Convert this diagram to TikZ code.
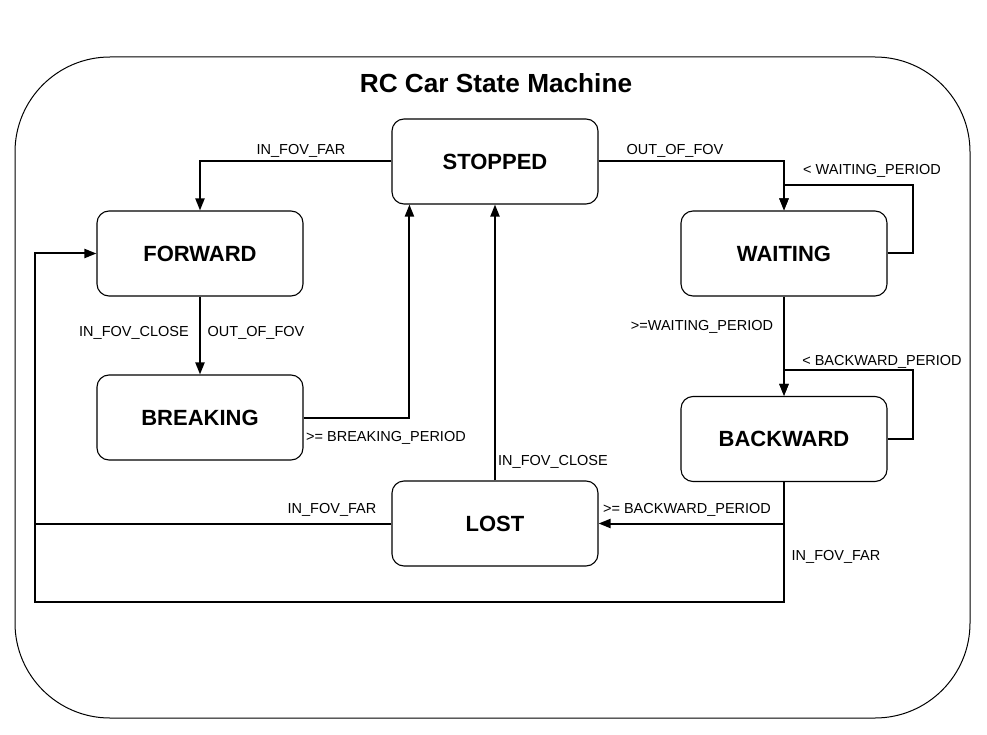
\documentclass[tikz,border=0pt]{standalone}
\usepackage{fontspec}
\setmainfont{Liberation Sans}
\usetikzlibrary{arrows.meta}

\tikzset{
  state/.style={draw, line width=1.1, rounded corners=12, minimum width=206, minimum height=85,
                font=\fontsize{22}{26}\selectfont\bfseries},
  conn/.style={line width=2, -{Triangle[length=12pt,width=9pt]}},
  wire/.style={line width=2},
  lbl/.style={font=\fontsize{14.5}{17}\selectfont, inner sep=0}
}

\begin{document}
\begin{tikzpicture}[x=1pt,y=-1pt]
	\useasboundingbox (0,0) rectangle (987,735);

	% outer frame
	\draw [line width=1, rounded corners=95] (15,57) rectangle (970,718);
	\node (title) at (496,83) {\fontsize{26.2}{30}\selectfont\bfseries RC Car State Machine};

	% states
	\node[state] (stopped)  at (495,161.5) {STOPPED};
	\node[state] (forward)  at (200,253.5) {FORWARD};
	\node[state] (breaking) at (200,417.5) {BREAKING};
	\node[state] (waiting)  at (784,253.5) {WAITING};
	\node[state] (backward) at (784,439)   {BACKWARD};
	\node[state] (lost)     at (495,523.5) {LOST};

	\coordinate (corner) at (35,602);

	% transitions
	\draw [conn] (stopped.west) -| (forward.north);
	\draw [conn] (stopped.east) -| (waiting.north);
	\draw [conn] (waiting.east) -- ++(25,0) |- ([yshift=25pt]waiting.north) -- (waiting.north);
	\draw [conn] (waiting.south) -- (backward.north);
	\draw [conn] (backward.east) -- ++(25,0) |- ([yshift=26pt]backward.north) -- (backward.north);
	\draw [conn] (backward.south) |- (lost.east);
	\draw [conn] (backward.south) |- (corner) |- (forward.west);
	\draw [wire] (lost.west) -- (lost.west -| corner);
	\draw [conn] (lost.north) -- (stopped.south);
	\draw [conn] (forward.south) -- (breaking.north);
	\draw [conn] (breaking.east) -| ([xshift=18pt]stopped.south west);

	% labels
	\node[lbl] (l1)  at (301,151) {IN\_FOV\_FAR};
	\node[lbl] (l2)  at (675,151) {OUT\_OF\_FOV};
	\node[lbl] (l3)  at (872,171) {< WAITING\_PERIOD};
	\node[lbl] (l4)  at (702,327) {>=WAITING\_PERIOD};
	\node[lbl] (l5)  at (882,362) {< BACKWARD\_PERIOD};
	\node[lbl] (l6)  at (687,510) {>= BACKWARD\_PERIOD};
	\node[lbl] (l7)  at (836,557) {IN\_FOV\_FAR};
	\node[lbl] (l8)  at (332,510) {IN\_FOV\_FAR};
	\node[lbl] (l9)  at (553,462) {IN\_FOV\_CLOSE};
	\node[lbl] (l10) at (134,333) {IN\_FOV\_CLOSE};
	\node[lbl] (l11) at (256,333) {OUT\_OF\_FOV};
	\node[lbl] (l12) at (386,438) {>= BREAKING\_PERIOD};
\end{tikzpicture}
\end{document}
